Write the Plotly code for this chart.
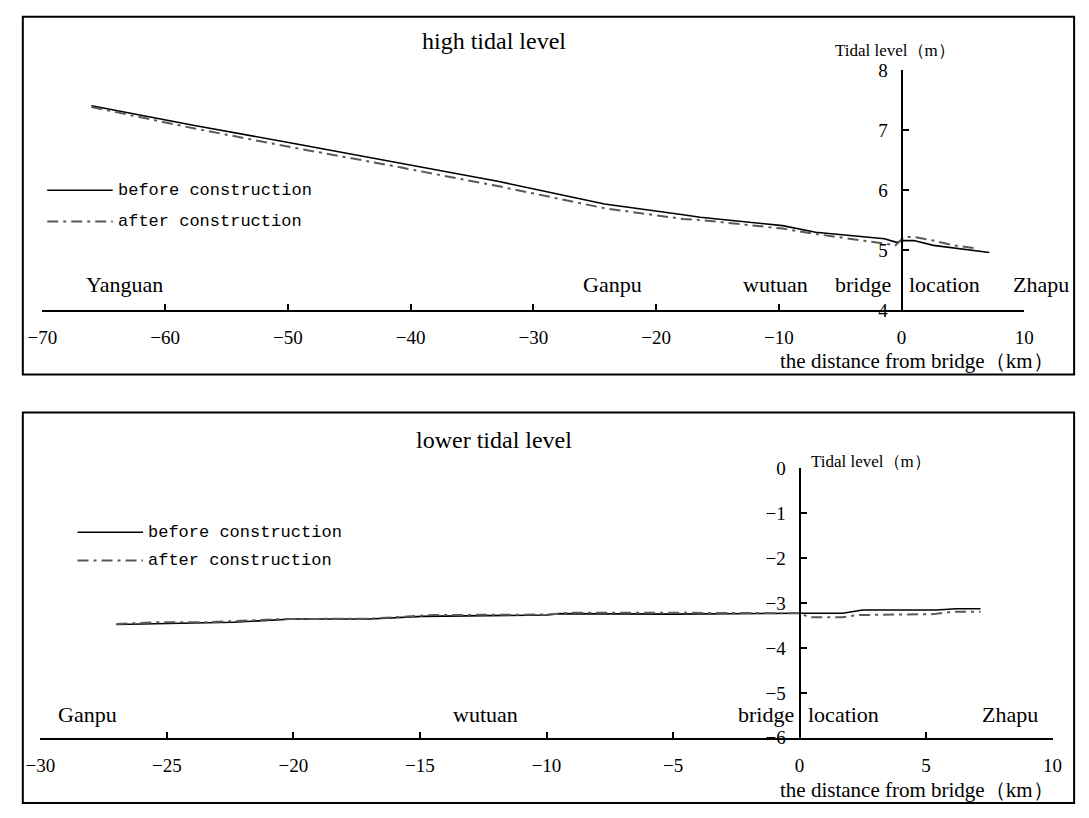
import plotly.graph_objects as go

# ---------------- data ----------------
# High tidal level (top panel)
high_before_x = [-66, -57.6, -49.5, -41.8, -32.9, -28.8, -24.2, -17.8, -16.4, -9.7, -7.0, -1.4, -0.4, 0, 1.0, 2.6, 4.2, 7.15]
high_before_y = [7.41, 7.08, 6.78, 6.49, 6.15, 5.97, 5.77, 5.59, 5.55, 5.41, 5.30, 5.19, 5.13, 5.16, 5.16, 5.08, 5.04, 4.96]
high_after_x = [-66, -57.6, -49.5, -41.8, -32.9, -28.8, -24.2, -17.8, -16.7, -9.7, -7.0, -1.4, -0.5, 0.2, 1.0, 2.6, 4.2, 6.2]
high_after_y = [7.39, 7.03, 6.71, 6.42, 6.07, 5.89, 5.70, 5.52, 5.51, 5.36, 5.27, 5.11, 5.08, 5.22, 5.22, 5.16, 5.08, 5.03]

# Lower tidal level (bottom panel)
low_before_x = [-27.0, -22.4, -20.0, -17.0, -14.9, -10.0, -9.5, -5.0, 0, 1.7, 2.5, 5.4, 6.2, 7.15]
low_before_y = [-3.48, -3.43, -3.36, -3.36, -3.30, -3.27, -3.24, -3.25, -3.23, -3.23, -3.16, -3.16, -3.13, -3.13]
low_after_x = [-27.0, -25.3, -23.5, -20.5, -17.0, -14.5, -10.0, -9.0, -5.0, -1.0, 0, 0.4, 1.7, 2.3, 5.3, 6.0, 7.15]
low_after_y = [-3.47, -3.43, -3.43, -3.36, -3.35, -3.27, -3.26, -3.22, -3.22, -3.22, -3.23, -3.32, -3.32, -3.27, -3.25, -3.20, -3.20]

series_names = ["before construction", "after construction"]
high_title = "high tidal level"
low_title = "lower tidal level"
y_title = "Tidal level（m）"
x_title = "the distance from bridge（km）"
high_places = ["Yanguan", "Ganpu", "wutuan", "bridge", "location", "Zhapu"]
low_places = ["Ganpu", "wutuan", "bridge", "location", "Zhapu"]

# ---------------- layout helpers ----------------
W, H = 1089, 818
def px(x):
    return x / W
def py(y):
    return 1 - y / H

SERIF = "Liberation Serif"
MONO = "Liberation Mono"
solid_style = dict(color="black", width=1.6)
dash_style = dict(color="#595959", width=2, dash="11px,5px,3px,5px")

fig = go.Figure()

fig.add_trace(go.Scatter(x=high_before_x, y=high_before_y, mode="lines", line=solid_style,
                         name=series_names[0], xaxis="x", yaxis="y", showlegend=False))
fig.add_trace(go.Scatter(x=high_after_x, y=high_after_y, mode="lines", line=dash_style,
                         name=series_names[1], xaxis="x", yaxis="y", showlegend=False))
fig.add_trace(go.Scatter(x=low_before_x, y=low_before_y, mode="lines", line=solid_style,
                         name=series_names[0], xaxis="x2", yaxis="y2", showlegend=False))
fig.add_trace(go.Scatter(x=low_after_x, y=low_after_y, mode="lines", line=dash_style,
                         name=series_names[1], xaxis="x2", yaxis="y2", showlegend=False))

# axis geometry
top_xdom = [px(28), px(1033)]
top_xr = [-70, 10]
top_ydom = [py(308), py(62)]
bot_xdom = [px(26), px(1062)]
bot_xr = [-30, 10]
bot_ydom = [py(747), py(470)]

def zero_pos(dom, rng):
    return dom[0] + (0 - rng[0]) / (rng[1] - rng[0]) * (dom[1] - dom[0])

axis_common = dict(showline=True, linecolor="black", linewidth=2, ticks="inside",
                   ticklen=6, tickwidth=2, tickcolor="black", showgrid=False,
                   zeroline=False, tickfont=dict(family=SERIF, size=19, color="black"))

fig.update_layout(
    width=W, height=H, margin=dict(l=0, r=0, t=0, b=0),
    paper_bgcolor="white", plot_bgcolor="rgba(0,0,0,0)",
    xaxis=dict(domain=top_xdom, range=top_xr, dtick=10, tick0=0, anchor="y",
               ticklabelstandoff=9, **axis_common),
    yaxis=dict(domain=top_ydom, range=[4, 8], dtick=1, tick0=0, anchor="free",
               position=zero_pos(top_xdom, top_xr), ticklabelstandoff=9, **axis_common),
    xaxis2=dict(domain=bot_xdom, range=bot_xr, dtick=5, tick0=0, anchor="y2",
                ticklabelstandoff=9, **axis_common),
    yaxis2=dict(domain=bot_ydom, range=[-6, 0], dtick=1, tick0=0, anchor="free",
                position=zero_pos(bot_xdom, bot_xr), ticklabelstandoff=9, **axis_common),
)

shapes = []
annotations = []

# panel frames
for (x0, y0, x1, y1) in [(8, 7, 1084, 374), (8, 413, 1084, 814)]:
    shapes.append(dict(type="rect", xref="paper", yref="paper", x0=px(x0), x1=px(x1),
                       y0=py(y1), y1=py(y0), line=dict(color="black", width=2)))

def text(x, y, s, size, family=SERIF, anchor="center"):
    annotations.append(dict(x=px(x), y=py(y), xref="paper", yref="paper", text=s,
                            showarrow=False, xanchor=anchor, yanchor="middle",
                            font=dict(family=family, size=size, color="black")))

# titles
text(490, 32, high_title, 24)
text(490, 441, low_title, 24)
# y titles
text(837, 42, y_title, 17, anchor="left")
text(813, 463, y_title, 17, anchor="left")
# x titles
text(1065, 360, x_title, 21, anchor="right")
text(1065, 801, x_title, 21, anchor="right")

# place names
top_place_pos = [(112, "center"), (612, "center"), (778, "center"), (899, "right"), (913, "left"), (1050, "center")]
for name, (x, a) in zip(high_places, top_place_pos):
    text(x, 282, name, 22, anchor=a)
bot_place_pos = [(74, "center"), (482, "center"), (799, "right"), (810, "left"), (1018, "center")]
for name, (x, a) in zip(low_places, bot_place_pos):
    text(x, 723, name, 22, anchor=a)

# manual legends
def legend(x0, x1, ys):
    for name, y, st in zip(series_names, ys, [solid_style, dash_style]):
        shapes.append(dict(type="line", xref="paper", yref="paper", x0=px(x0), x1=px(x1),
                           y0=py(y), y1=py(y), line=st))
        text(x1 + 3, y, name, 17, family=MONO, anchor="left")

legend(33, 100, [185, 217])
legend(64, 131, [536, 565])

fig.update_layout(shapes=shapes, annotations=annotations)
fig.write_html("out.html")
